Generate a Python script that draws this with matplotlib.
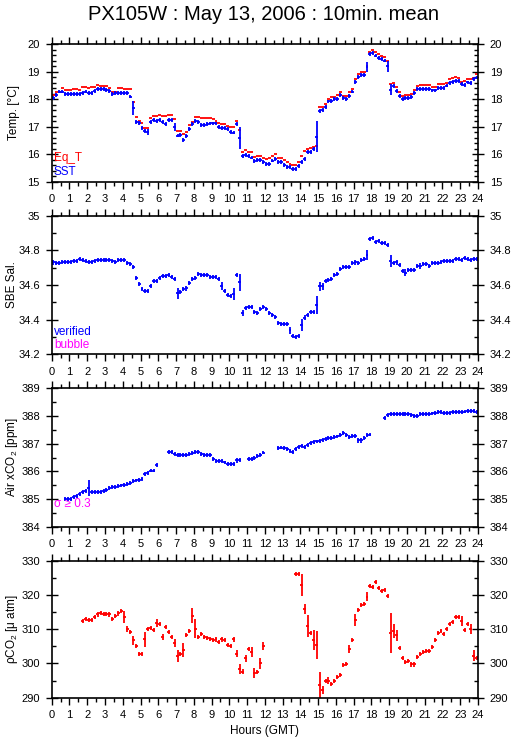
import numpy as np
import matplotlib
matplotlib.use('Agg')
import matplotlib.pyplot as plt
from matplotlib.ticker import MultipleLocator, FuncFormatter

plt.rcParams['font.family'] = ['Liberation Sans', 'DejaVu Sans']
plt.rcParams['mathtext.fontset'] = 'custom'
plt.rcParams['mathtext.rm'] = 'Liberation Sans'
plt.rcParams['mathtext.it'] = 'Liberation Sans:italic'

nan = np.nan
# 10-minute bins (centres, hours GMT)
hours = np.arange(144) / 6 + 1 / 12

sst = [18.05, 18.16, 18.28, 18.28, 18.20, 18.18, 18.18, 18.20, 18.20, 18.20,
       18.22, 18.28, 18.24, 18.24, 18.30, 18.38, 18.38, 18.38, 18.34, 18.30,
       18.18, 18.22, 18.22, 18.24, 18.24, 18.22, 18.10, 17.67, 17.16, 17.13,
       16.95, 16.83, 16.80, 17.16, 17.25, 17.20, 17.25, 17.16, 17.09, 17.25,
       17.25, 17.00, 16.68, 16.70, 16.52, 16.67, 16.92, 17.09, 17.21, 17.16,
       17.07, 17.07, 17.09, 17.12, 17.12, 17.12, 16.98, 16.95, 16.95, 16.91,
       16.80, 16.79, 17.09, 16.58, 15.94, 15.98, 15.92, 15.88, 15.76, 15.79,
       15.79, 15.72, 15.64, 15.64, 15.77, 15.82, 15.73, 15.71, 15.61, 15.52,
       15.53, 15.45, 15.45, 15.58, 15.71, 15.83, 16.07, 16.07, 16.19, 16.64,
       17.58, 17.61, 17.71, 17.92, 17.94, 18.00, 18.00, 18.16, 18.04, 18.00,
       18.13, 18.28, 18.62, 18.80, 18.88, 18.88, 19.19, 19.64, 19.67, 19.59,
       19.49, 19.45, 19.41, 19.21, 18.34, 18.48, 18.30, 18.13, 18.00, 18.06,
       18.06, 18.07, 18.22, 18.38, 18.38, 18.38, 18.38, 18.38, 18.32, 18.32,
       18.42, 18.42, 18.42, 18.50, 18.58, 18.62, 18.67, 18.67, 18.55, 18.52,
       18.61, 18.58, 18.74, 18.79]
sst_err = {27: 0.25, 32: 0.10, 41: 0.14, 63: 0.40, 89: 0.57, 106: 0.18,
           113: 0.20, 114: 0.20}

eqt = [18.16, 18.28, 18.28, 18.42, 18.34, 18.34, 18.34, 18.38, 18.36, 18.34,
       18.44, 18.44, 18.40, 18.44, 18.44, 18.52, 18.50, 18.50, 18.50, 18.40,
       18.28, 18.28, 18.40, 18.40, 18.36, 18.36, 18.36, 17.89, 17.35, 17.22,
       17.13, 16.97, 16.97, 17.33, 17.39, 17.39, 17.43, 17.39, 17.39, 17.43,
       17.43, 17.27, 16.85, 16.85, 16.74, 16.81, 17.07, 17.19, 17.37, 17.37,
       17.30, 17.30, 17.30, 17.30, 17.28, 17.21, 17.13, 17.09, 17.09, 17.04,
       17.00, 17.00, 17.22, 16.88, 16.07, 16.16, 16.07, 16.07, 15.89, 15.95,
       15.92, 15.88, 15.83, 15.86, 15.92, 16.00, 15.88, 15.88, 15.79, 15.71,
       15.66, 15.61, 15.61, 15.71, 15.95, 16.10, 16.18, 16.22, 16.28, 16.30,
       17.71, 17.71, 17.83, 18.00, 18.07, 18.07, 18.16, 18.28, 18.12, 18.12,
       18.25, 18.38, 18.74, 18.91, 18.98, 18.98, 19.22, 19.73, 19.79, 19.73,
       19.64, 19.59, 19.55, 19.39, 18.56, 18.58, 18.44, 18.28, 18.12, 18.16,
       18.16, 18.18, 18.34, 18.50, 18.52, 18.52, 18.52, 18.52, 18.44, 18.44,
       18.55, 18.55, 18.55, 18.60, 18.73, 18.76, 18.80, 18.79, 18.64, 18.67,
       18.73, 18.73, 18.79, 18.91]

sal = [34.730, 34.725, 34.728, 34.735, 34.735, 34.733, 34.733, 34.740, 34.740, 34.748,
       34.746, 34.740, 34.733, 34.733, 34.738, 34.742, 34.742, 34.742, 34.742, 34.742,
       34.738, 34.733, 34.742, 34.742, 34.742, 34.725, 34.720, 34.706, 34.638, 34.604,
       34.579, 34.565, 34.565, 34.596, 34.625, 34.625, 34.638, 34.652, 34.652, 34.658,
       34.648, 34.635, 34.552, 34.558, 34.575, 34.580, 34.610, 34.633, 34.638, 34.663,
       34.660, 34.660, 34.660, 34.644, 34.644, 34.644, 34.633, 34.596, 34.567, 34.542,
       34.538, 34.548, 34.658, 34.615, 34.437, 34.468, 34.471, 34.475, 34.446, 34.437,
       34.460, 34.471, 34.460, 34.437, 34.425, 34.413, 34.379, 34.373, 34.373, 34.373,
       34.340, 34.306, 34.298, 34.306, 34.369, 34.412, 34.427, 34.442, 34.446, 34.485,
       34.594, 34.594, 34.625, 34.629, 34.635, 34.658, 34.663, 34.690, 34.706, 34.706,
       34.706, 34.725, 34.730, 34.725, 34.744, 34.748, 34.773, 34.865, 34.873, 34.850,
       34.854, 34.844, 34.840, 34.830, 34.740, 34.725, 34.730, 34.715, 34.681, 34.671,
       34.687, 34.687, 34.687, 34.710, 34.710, 34.721, 34.721, 34.712, 34.725, 34.729,
       34.729, 34.733, 34.738, 34.740, 34.740, 34.740, 34.748, 34.748, 34.744, 34.756,
       34.752, 34.744, 34.748, 34.752]
sal_err = {42: 0.031, 57: 0.022, 61: 0.033, 63: 0.05, 64: 0.016, 80: 0.02,
           84: 0.034, 89: 0.053, 90: 0.026, 91: 0.02, 106: 0.03, 114: 0.036,
           119: 0.02, 124: 0.018}

xco2 = [nan, nan, nan, nan, 385.01, 385.01, 385.01, 385.07, 385.10, 385.19,
        385.24, 385.28, 385.40, 385.25, 385.25, 385.25, 385.25, 385.28, 385.34, 385.40,
        385.42, 385.44, 385.46, 385.49, 385.52, 385.54, 385.58, 385.66, 385.67, 385.68,
        385.73, 385.89, 385.95, 386.03, 386.03, 386.22, nan, nan, nan, 386.70,
        386.70, 386.62, 386.60, 386.60, 386.60, 386.60, 386.63, 386.66, 386.69, 386.70,
        386.64, 386.58, 386.58, 386.58, 386.46, 386.36, 386.36, 386.36, 386.32, 386.28,
        386.28, 386.28, 386.40, 386.42, nan, nan, 386.44, 386.44, 386.48, 386.55,
        386.60, 386.68, nan, nan, nan, nan, 386.85, 386.86, 386.84, 386.80,
        386.74, 386.70, 386.82, 386.88, 386.91, 386.89, 386.95, 387.02, 387.05, 387.08,
        387.11, 387.14, 387.16, 387.19, 387.22, 387.23, 387.26, 387.32, 387.37, 387.30,
        387.25, 387.27, 387.28, 387.13, 387.12, 387.22, 387.30, 387.33, nan, nan,
        nan, nan, 387.94, 388.02, 388.06, 388.07, 388.07, 388.07, 388.07, 388.07,
        388.06, 388.03, 388.01, 388.00, 388.06, 388.08, 388.08, 388.08, 388.09, 388.10,
        388.13, 388.13, 388.12, 388.12, 388.12, 388.13, 388.13, 388.14, 388.15, 388.16,
        388.18, 388.18, 388.18, 388.13]
xco2_err = {12: 0.30, 62: 0.09, 103: 0.09, 104: 0.10}

pco2 = [nan, nan, nan, nan, nan, nan, nan, nan, nan, nan,
        312.4, 312.9, 312.7, 312.7, 313.6, 314.3, 314.8, 314.4, 314.4, 314.3,
        313.1, 313.8, 314.6, 315.3, 313.5, 310.0, 309.1, 306.8, 305.2, 302.7,
        302.7, 307.1, 310.0, 310.4, 309.8, 311.7, 311.4, 307.8, 310.7, 309.3,
        307.6, 305.9, 302.2, 302.7, 303.9, 308.3, 309.6, 314.0, 310.2, 307.8,
        308.6, 307.8, 307.5, 307.2, 306.8, 307.0, 306.2, 307.0, 306.8, 305.4,
        305.1, 307.0, 302.9, 298.3, 297.6, 301.5, 304.2, 303.4, 297.3, 297.4,
        300.0, 305.1, nan, nan, nan, nan, nan, nan, nan, nan,
        nan, nan, 326.1, 326.1, 322.9, 315.9, 310.9, 309.0, 306.8, 305.4,
        293.7, 292.2, 295.0, 295.0, 294.0, 295.0, 296.1, 296.6, 299.5, 299.8,
        304.2, 306.8, 312.7, 315.6, 317.1, 317.3, 319.5, 322.6, 322.2, 323.7,
        322.1, 321.1, 321.4, 319.7, 308.8, 309.5, 308.3, 304.4, 301.7, 300.3,
        300.7, 299.7, 299.7, 302.0, 302.7, 303.4, 303.7, 303.7, 304.7, 306.8,
        308.8, 309.5, 308.6, 310.0, 311.4, 312.0, 313.5, 313.6, 312.4, 309.8,
        311.4, 310.0, 302.3, 301.7]
pco2_err = {24: 1.8, 25: 0.9, 27: 1.3, 31: 2.2, 35: 1.2, 37: 0.9, 41: 1.2, 42: 1.7,
            44: 2.1, 47: 2.3, 48: 2.7, 62: 1.1, 63: 1.5, 64: 0.7, 65: 1.0, 67: 1.4,
            68: 1.5, 70: 1.6, 71: 1.1, 84: 3.2, 85: 1.5, 86: 3.2, 88: 2.9, 89: 4.2,
            90: 3.9, 91: 1.2, 93: 1.0, 100: 1.2, 102: 1.7, 106: 1.4, 114: 5.8,
            115: 2.0, 116: 1.6, 138: 1.5, 141: 1.5, 142: 1.5}

BLUE = '#0000ff'
RED = '#ff0000'
MAG = '#ff00ff'
W, H = 515, 739
TICK_FS = 8


def errs(n, base, extra):
    e = np.full(n, base)
    for k, v in extra.items():
        e[k] = v
    return e


def style(ax, ylim, major, minor):
    ax.set_xlim(0, 24)
    ax.set_ylim(*ylim)
    ax.xaxis.set_major_locator(MultipleLocator(1))
    ax.xaxis.set_minor_locator(MultipleLocator(0.5))
    ax.yaxis.set_major_locator(MultipleLocator(major))
    ax.yaxis.set_minor_locator(MultipleLocator(minor))
    ax.yaxis.set_major_formatter(FuncFormatter(lambda v, p: '%g' % round(v, 3)))
    ax.tick_params(axis='x', which='both', direction='out', top=True, bottom=True,
                   labelsize=TICK_FS, pad=4)
    ax.tick_params(axis='x', which='major', length=5, width=1)
    ax.tick_params(axis='x', which='minor', length=3, width=1)
    ax.tick_params(axis='y', which='major', direction='inout', length=9, width=1,
                   left=True, right=True, labelleft=True, labelright=True,
                   labelsize=TICK_FS, pad=4)
    ax.tick_params(axis='y', which='minor', direction='in', length=3, width=1,
                   left=True, right=True)
    for s in ax.spines.values():
        s.set_linewidth(1.2)


fig = plt.figure(figsize=(W / 100, H / 100), dpi=100)
left, width = 51.7 / W, 426.3 / W
panels = [(44.3, 181.7), (215.7, 354.3), (388.3, 526.7), (560.7, 697.7)]
axs = [fig.add_axes([left, 1 - b / H, width, (b - t) / H]) for t, b in panels]

dx = 1 / 12
lw = 1.3
# Panel 1: temperatures
ax = axs[0]
ax.errorbar(hours, eqt, xerr=dx, fmt='none', ecolor=RED, elinewidth=lw)
ax.errorbar(hours, sst, xerr=dx, yerr=errs(144, 0.07, sst_err), fmt='none',
            ecolor=BLUE, elinewidth=lw)
style(ax, (15, 20), 1, 0.2)

# Panel 2: salinity
ax = axs[1]
ax.errorbar(hours, sal, xerr=dx, yerr=errs(144, 0.012, sal_err), fmt='none',
            ecolor=BLUE, elinewidth=lw)
style(ax, (34.2, 35), 0.2, 0.1)

# Panel 3: air xCO2
ax = axs[2]
ax.errorbar(hours, xco2, xerr=dx, yerr=errs(144, 0.07, xco2_err), fmt='none',
            ecolor=BLUE, elinewidth=lw)
style(ax, (384, 389), 1, 0.5)

# Panel 4: pCO2
ax = axs[3]
ax.errorbar(hours, pco2, xerr=dx, yerr=errs(144, 0.6, pco2_err), fmt='none',
            ecolor=RED, elinewidth=lw)
style(ax, (290, 330), 10, 5)


def ftext(x, y, s, **kw):
    fig.text(x / W, 1 - y / H, s, **kw)


ftext(263, 15, 'PX105W : May 13, 2006 : 10min. mean', ha='center', va='center',
      fontsize=14.5)
ftext(14, 113, 'Temp. [°C]', rotation=90, ha='center', va='center', fontsize=8.5)
ftext(12, 285, 'SBE Sal.', rotation=90, ha='center', va='center', fontsize=8.5)
ftext(12, 457, 'Air xCO$_2$ [ppm]', rotation=90, ha='center', va='center', fontsize=8.5)
ftext(12, 629, 'ρCO$_2$ [μ atm]', rotation=90, ha='center', va='center', fontsize=8.5)
ftext(265, 731, 'Hours (GMT)', ha='center', va='center', fontsize=8.5)

ftext(54, 158, 'Eq_T', color=RED, ha='left', va='center', fontsize=8.5)
ftext(54, 172, 'SST', color=BLUE, ha='left', va='center', fontsize=8.5)
ftext(54, 332, 'verified', color=BLUE, ha='left', va='center', fontsize=8.5)
ftext(54, 345, 'bubble', color=MAG, ha='left', va='center', fontsize=8.5)
ftext(54, 504, 'σ ≥ 0.3', color=MAG, ha='left', va='center', fontsize=8.5)

fig.savefig('out.png', dpi=100)
